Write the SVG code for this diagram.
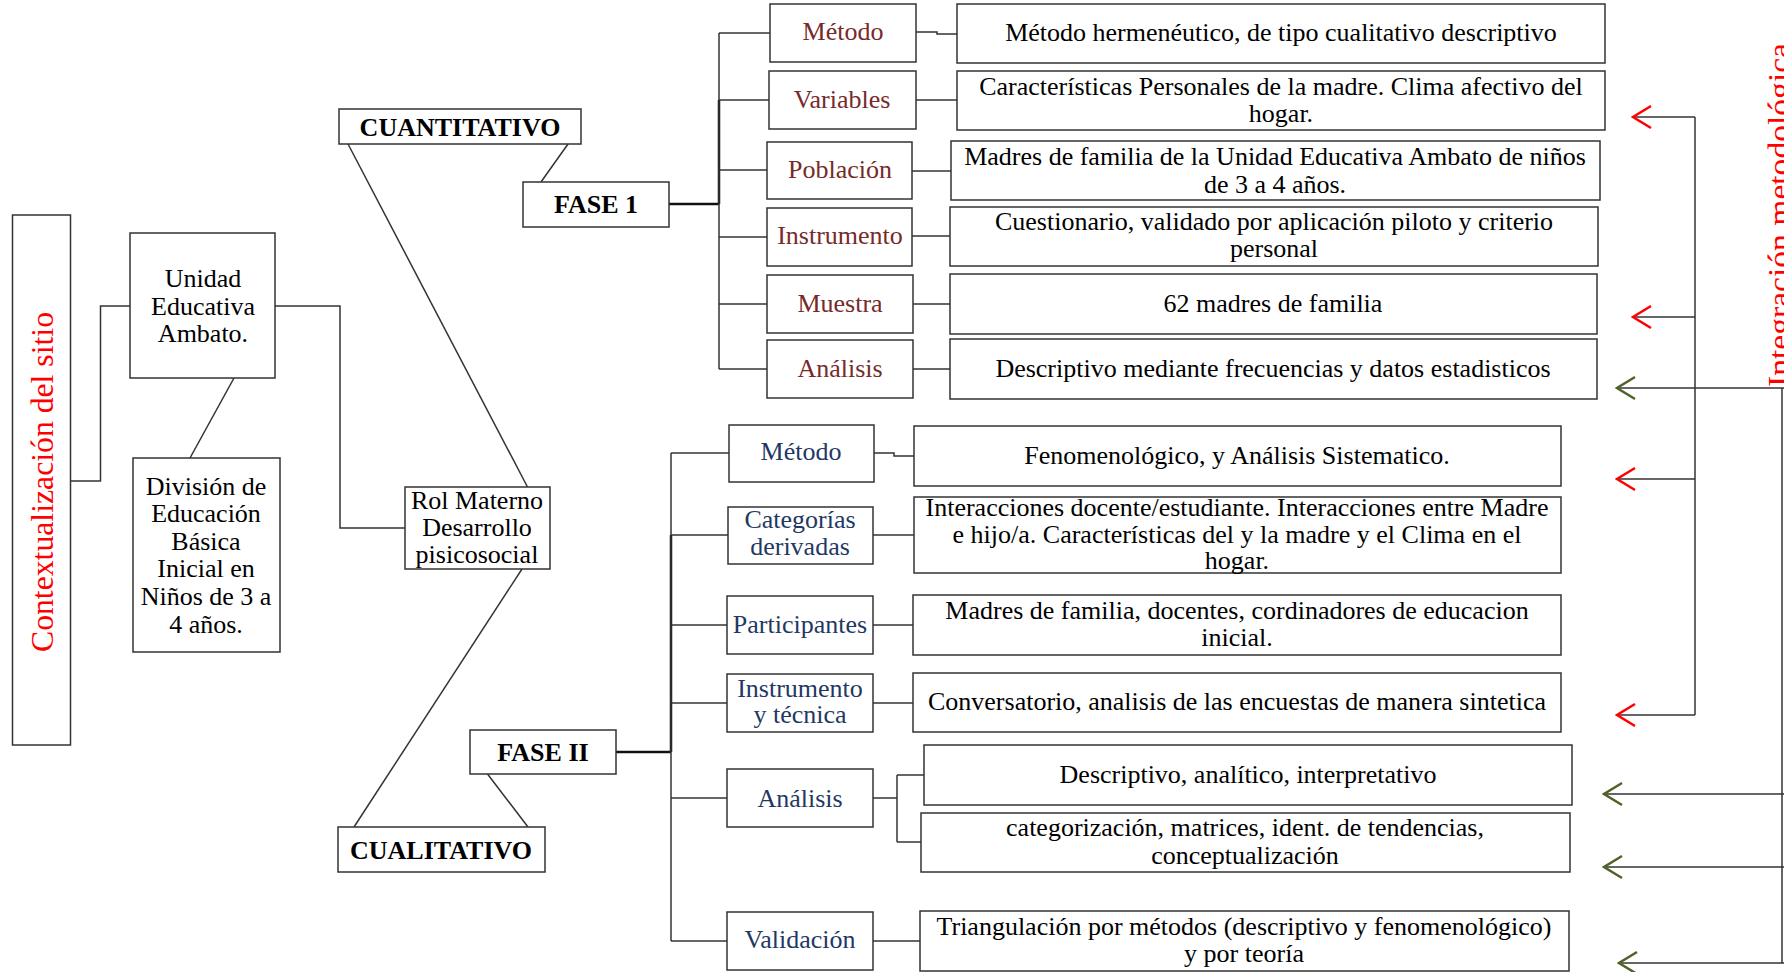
<svg xmlns="http://www.w3.org/2000/svg" width="1784" height="972" viewBox="0 0 1784 972">
<defs>
<style>
text{font-family:"Liberation Serif","Times New Roman",serif;font-size:26px;fill:#000;text-anchor:middle}
.b{font-weight:bold}
.l1{fill:#772A2A}
.l2{fill:#1F3864}
.red{fill:#FF0000;font-size:32px}
rect{fill:#fff;stroke:#333;stroke-width:1.5}
.c line,.c polyline{stroke:#333;stroke-width:1.5;fill:none}
.c .thick{stroke-width:2.5;stroke:#111}
.ar{stroke:#FF0000;stroke-width:2.5;fill:none}
.ag{stroke:#4F6228;stroke-width:2.5;fill:none}
</style>
<marker id="mr" viewBox="-20 -13 22 26" refX="0" refY="0" markerWidth="22" markerHeight="26" markerUnits="userSpaceOnUse" orient="auto">
<path d="M-18,-11 L0,0 L-18,11" fill="none" stroke="#FF0000" stroke-width="2.5"/>
</marker>
<marker id="mg" viewBox="-20 -13 22 26" refX="0" refY="0" markerWidth="22" markerHeight="26" markerUnits="userSpaceOnUse" orient="auto">
<path d="M-18,-11 L0,0 L-18,11" fill="none" stroke="#4F6228" stroke-width="2.5"/>
</marker>
</defs>
<rect x="0" y="0" width="1784" height="972" style="fill:#fff;stroke:none"/>

<g id="connectors" class="c">
<polyline points="70.5,481 100.5,481 100.5,306 130,306"/>
<polyline points="275,306 340,306 340,528 405,528"/>
<line x1="234" y1="378" x2="190" y2="458"/>
<line x1="348" y1="144" x2="527.5" y2="487"/>
<line x1="522" y1="569" x2="354" y2="827"/>
<line x1="568" y1="144" x2="541" y2="182"/>
<line x1="487.5" y1="774" x2="528" y2="827"/>
<!-- fase 1 branch -->
<line x1="669" y1="204" x2="719" y2="204" class="thick"/>
<line x1="719" y1="100" x2="719" y2="204" class="thick"/>
<line x1="719" y1="33" x2="719" y2="369"/>
<line x1="719" y1="33" x2="770" y2="33"/>
<line x1="719" y1="100" x2="769" y2="100"/>
<line x1="719" y1="170" x2="767" y2="170"/>
<line x1="719" y1="237" x2="767" y2="237"/>
<line x1="719" y1="304" x2="767" y2="304"/>
<line x1="719" y1="369" x2="767" y2="369"/>
<polyline points="916,32 937,32 937,34 957,34"/>
<line x1="916" y1="100" x2="957" y2="100"/>
<line x1="912" y1="171" x2="951" y2="171"/>
<line x1="912" y1="236" x2="950" y2="236"/>
<line x1="913" y1="304" x2="950" y2="304"/>
<line x1="913" y1="369" x2="950" y2="369"/>
<!-- fase 2 branch -->
<line x1="616" y1="752" x2="671" y2="752" class="thick"/>
<line x1="671" y1="535" x2="671" y2="752" class="thick"/>
<line x1="671" y1="453" x2="671" y2="941"/>
<line x1="671" y1="453" x2="729" y2="453"/>
<line x1="671" y1="535" x2="728" y2="535"/>
<line x1="671" y1="625" x2="727" y2="625"/>
<line x1="671" y1="703" x2="727" y2="703"/>
<line x1="671" y1="798" x2="727" y2="798"/>
<line x1="671" y1="941" x2="727" y2="941"/>
<polyline points="874,453 894,453 894,456 914,456"/>
<line x1="873" y1="535" x2="914" y2="535"/>
<line x1="873" y1="625" x2="913" y2="625"/>
<line x1="873" y1="703" x2="913" y2="703"/>
<polyline points="873,798 897,798"/>
<line x1="897" y1="775" x2="897" y2="842"/>
<line x1="897" y1="775" x2="924" y2="775"/>
<line x1="897" y1="842" x2="921" y2="842"/>
<line x1="873" y1="941" x2="920" y2="941"/>
<!-- integration arrows -->
<line class="ar" x1="1695" y1="117" x2="1695" y2="715"/>
<line class="ar" x1="1695" y1="117" x2="1633" y2="117" marker-end="url(#mr)"/>
<line class="ar" x1="1695" y1="317" x2="1633" y2="317" marker-end="url(#mr)"/>
<line class="ar" x1="1695" y1="479" x2="1617" y2="479" marker-end="url(#mr)"/>
<line class="ar" x1="1695" y1="715" x2="1617" y2="715" marker-end="url(#mr)"/>
<line class="ag" x1="1782" y1="388" x2="1782" y2="963"/>
<line class="ag" x1="1784" y1="388" x2="1617" y2="388" marker-end="url(#mg)"/>
<line class="ag" x1="1784" y1="794" x2="1604" y2="794" marker-end="url(#mg)"/>
<line class="ag" x1="1784" y1="867" x2="1604" y2="867" marker-end="url(#mg)"/>
<line class="ag" x1="1784" y1="963" x2="1619" y2="963" marker-end="url(#mg)"/>
</g>

<g id="n-contexto"><rect x="12.5" y="215" width="58" height="530"/>
<text class="red" transform="translate(53,482) rotate(-90)" textLength="340" lengthAdjust="spacingAndGlyphs">Contextualización del sitio</text></g>
<g id="n-integracion"><text class="red" transform="translate(1790,215) rotate(-90)" textLength="344" lengthAdjust="spacingAndGlyphs">Integración metodológica</text></g>
<g id="n-unidad"><rect x="130" y="233" width="145" height="145"/>
<text x="203"><tspan x="203" y="287">Unidad</tspan><tspan x="203" y="315">Educativa</tspan><tspan x="203" y="342">Ambato.</tspan></text></g>
<g id="n-division"><rect x="133" y="458" width="147" height="194"/>
<text><tspan x="206" y="495">División de</tspan><tspan x="206" y="522">Educación</tspan><tspan x="206" y="550">Básica</tspan><tspan x="206" y="577">Inicial en</tspan><tspan x="206" y="605">Niños de 3 a</tspan><tspan x="206" y="633">4 años.</tspan></text></g>
<g id="n-rol"><rect x="405" y="487" width="145" height="82"/>
<text><tspan x="477" y="509">Rol Materno</tspan><tspan x="477" y="536">Desarrollo</tspan><tspan x="477" y="563">pisicosocial</tspan></text></g>
<g id="n-cuantitativo"><rect x="339" y="109" width="242" height="35"/><text class="b" x="460" y="136">CUANTITATIVO</text></g>
<g id="n-fase1"><rect x="523" y="182" width="146" height="45"/><text class="b" x="596" y="213">FASE 1</text></g>
<g id="n-fase2"><rect x="470" y="730" width="146" height="44"/><text class="b" x="543" y="761">FASE II</text></g>
<g id="n-cualitativo"><rect x="338" y="827" width="207" height="45"/><text class="b" x="441" y="859">CUALITATIVO</text></g>

<g id="f1-metodo"><rect x="770" y="4" width="146" height="58"/><text class="l1" x="843" y="40">Método</text></g>
<g id="f1-variables"><rect x="769" y="71" width="147" height="58"/><text class="l1" x="842" y="108">Variables</text></g>
<g id="f1-poblacion"><rect x="767" y="142" width="145" height="57"/><text class="l1" x="840" y="178">Población</text></g>
<g id="f1-instrumento"><rect x="767" y="208" width="145" height="58"/><text class="l1" x="840" y="244">Instrumento</text></g>
<g id="f1-muestra"><rect x="767" y="275" width="146" height="58"/><text class="l1" x="840" y="312">Muestra</text></g>
<g id="f1-analisis"><rect x="767" y="340" width="146" height="58"/><text class="l1" x="840" y="377">Análisis</text></g>

<g id="d1-metodo"><rect x="957" y="4" width="648" height="59"/><text x="1281" y="41">Método hermenéutico, de tipo cualitativo descriptivo</text></g>
<g id="d1-variables"><rect x="957" y="71" width="648" height="59"/><text><tspan x="1281" y="95">Características Personales de la madre.  Clima afectivo del</tspan><tspan x="1281" y="122">hogar.</tspan></text></g>
<g id="d1-poblacion"><rect x="951" y="141" width="649" height="59"/><text><tspan x="1275" y="165">Madres de familia de la Unidad Educativa Ambato de niños</tspan><tspan x="1275" y="193">de 3 a 4 años.</tspan></text></g>
<g id="d1-instrumento"><rect x="950" y="207" width="648" height="59"/><text><tspan x="1274" y="230">Cuestionario, validado por aplicación piloto y criterio</tspan><tspan x="1274" y="257">personal</tspan></text></g>
<g id="d1-muestra"><rect x="950" y="274" width="647" height="60"/><text x="1273" y="312">62 madres de familia</text></g>
<g id="d1-analisis"><rect x="950" y="339" width="647" height="60"/><text x="1273" y="377">Descriptivo mediante frecuencias y datos estadisticos</text></g>

<g id="f2-metodo"><rect x="729" y="425" width="145" height="57"/><text class="l2" x="801" y="460">Método</text></g>
<g id="f2-categorias"><rect x="728" y="507" width="145" height="57"/><text class="l2"><tspan x="800" y="528">Categorías</tspan><tspan x="800" y="555">derivadas</tspan></text></g>
<g id="f2-participantes"><rect x="727" y="596" width="146" height="58"/><text class="l2" x="800" y="633">Participantes</text></g>
<g id="f2-instrumento"><rect x="727" y="674" width="146" height="58"/><text class="l2"><tspan x="800" y="697">Instrumento</tspan><tspan x="800" y="723">y técnica</tspan></text></g>
<g id="f2-analisis"><rect x="727" y="769" width="146" height="58"/><text class="l2" x="800" y="807">Análisis</text></g>
<g id="f2-validacion"><rect x="727" y="912" width="146" height="58"/><text class="l2" x="800" y="948">Validación</text></g>

<g id="d2-metodo"><rect x="914" y="426" width="647" height="60"/><text x="1237" y="464">Fenomenológico, y Análisis Sistematico.</text></g>
<g id="d2-categorias"><rect x="914" y="497" width="647" height="76"/><text><tspan x="1237" y="516">Interacciones docente/estudiante. Interacciones entre Madre</tspan><tspan x="1237" y="543">e hijo/a. Características del y la madre y el Clima en el</tspan><tspan x="1237" y="569">hogar.</tspan></text></g>
<g id="d2-participantes"><rect x="913" y="595" width="648" height="60"/><text><tspan x="1237" y="619">Madres de familia, docentes, cordinadores de educacion</tspan><tspan x="1237" y="646">inicial.</tspan></text></g>
<g id="d2-instrumento"><rect x="913" y="673" width="648" height="59"/><text x="1237" y="710">Conversatorio, analisis de las encuestas de manera sintetica</text></g>
<g id="d2-analisis-a"><rect x="924" y="745" width="648" height="60"/><text x="1248" y="783">Descriptivo, analítico, interpretativo</text></g>
<g id="d2-analisis-b"><rect x="921" y="813" width="649" height="59"/><text><tspan x="1245" y="836">categorización, matrices, ident. de tendencias,</tspan><tspan x="1245" y="864">conceptualización</tspan></text></g>
<g id="d2-validacion"><rect x="920" y="911" width="649" height="60"/><text><tspan x="1244" y="935">Triangulación por métodos (descriptivo y fenomenológico)</tspan><tspan x="1244" y="962">y por teoría</tspan></text></g>
</svg>
